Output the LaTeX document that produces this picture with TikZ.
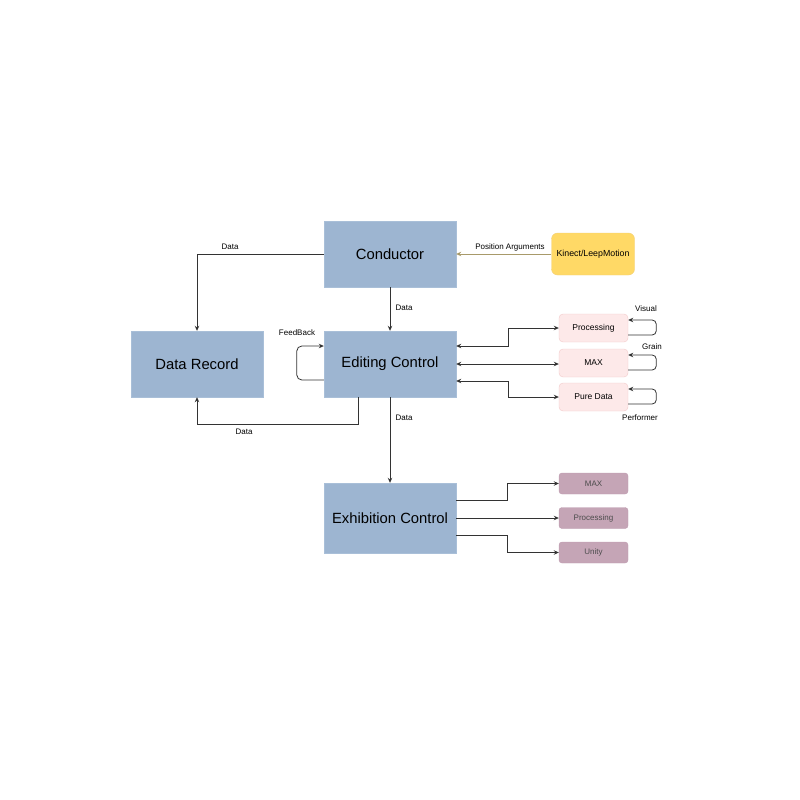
\documentclass[tikz,border=0pt]{standalone}
\usepackage{fontspec}
\setmainfont{Liberation Sans}
\usetikzlibrary{arrows.meta}
\definecolor{blockfill}{HTML}{9DB5D1}
\definecolor{blockline}{HTML}{A9BFD8}
\definecolor{sensefill}{HTML}{FFD966}
\definecolor{senseline}{HTML}{F2CF7A}
\definecolor{toolfill}{HTML}{FDE9E9}
\definecolor{toolline}{HTML}{F3C9C9}
\definecolor{outfill}{HTML}{C5A5B6}
\definecolor{outline}{HTML}{BE9CAF}
\definecolor{wire}{HTML}{333333}
\definecolor{sensewire}{HTML}{A89A6A}
\begin{document}
\begin{tikzpicture}[x=1pt,y=-1pt,
  block/.style={draw=blockline,fill=blockfill,minimum width=132pt,minimum height=66pt,inner sep=0pt,font=\fontsize{14.8}{16}\selectfont},
  sense/.style={draw=senseline,fill=sensefill,rounded corners=6pt,minimum width=83pt,minimum height=42pt,inner sep=0pt,font=\fontsize{8.8}{10}\selectfont},
  tool/.style={draw=toolline,fill=toolfill,rounded corners=4pt,minimum width=69pt,minimum height=28pt,inner sep=0pt,font=\fontsize{8.5}{10}\selectfont},
  outbox/.style={draw=outline,fill=outfill,rounded corners=3pt,minimum width=69pt,minimum height=21pt,inner sep=0pt,text=black!70,font=\fontsize{8}{10}\selectfont},
  lbl/.style={font=\fontsize{8}{10}\selectfont,inner sep=0pt},
  link/.style={draw=wire,line width=0.8pt,-{Stealth[length=5pt,width=4.5pt]}},
  both/.style={draw=wire,line width=0.8pt,{Stealth[length=5pt,width=4.5pt]}-{Stealth[length=5pt,width=4.5pt]}}]
  \useasboundingbox (0,0) rectangle (800,800);
  \node[block] (cond) at (390,254) {Conductor};
  \node[block] (rec) at (197,364) {Data Record};
  \node[block] (edit) at (390,364) {Editing Control};
  \node[block,minimum height=70pt] (exh) at (390,518) {Exhibition Control};
  \node[sense] (kin) at (593,254) {Kinect/LeepMotion};
  \node[tool] (proc) at (593.5,328) {Processing};
  \node[tool] (max) at (593.5,363) {MAX};
  \node[tool] (pd) at (593.5,397) {Pure Data};
  \node[outbox] (outmax) at (593.5,483.5) {MAX};
  \node[outbox] (outproc) at (593.5,518) {Processing};
  \node[outbox] (unity) at (593.5,552.5) {Unity};
  \draw[link] (cond.west) -| (rec.north);
  \draw[link] (cond.south) -- (edit.north);
  \draw[link] ([xshift=-32pt]edit.south) -- ++(0,27) -| (rec.south);
  \draw[link] (edit.south) -- (exh.north);
  \draw[link,rounded corners=5pt] ([yshift=-16pt]edit.west) -- ++(-27,0) |- ([yshift=18pt]edit.west);
  \draw[link,draw=sensewire] (kin.west) -- (cond.east);
  \draw[both] ([yshift=18pt]edit.east) -- ++(52,0) |- (proc.west);
  \draw[both] (edit.east) -- (edit.east -| max.west);
  \draw[both] ([yshift=-17pt]edit.east) -- ++(52,0) |- (pd.west);
  \draw[link,rounded corners=4pt] ([yshift=-7pt]proc.east) -- ++(28,0) |- ([yshift=8pt]proc.east);
  \draw[link,rounded corners=4pt] ([yshift=-7pt]max.east) -- ++(28,0) |- ([yshift=8pt]max.east);
  \draw[link,rounded corners=4pt] ([yshift=-7pt]pd.east) -- ++(28,0) |- ([yshift=8pt]pd.east);
  \draw[link] ([yshift=18pt]exh.east) -- ++(51,0) |- (outmax.west);
  \draw[link] (exh.east) -- (outproc.west);
  \draw[link] ([yshift=-17pt]exh.east) -- ++(51,0) |- (unity.west);
  \node[lbl] (datarec) at (230,247) {Data};
  \node[lbl] (dataedit) at (404,308) {Data};
  \node[lbl] (databack) at (244,432) {Data};
  \node[lbl] (dataexh) at (404,418) {Data};
  \node[lbl] (feedback) at (297,333) {FeedBack};
  \node[lbl] (posargs) at (510,247) {Position Arguments};
  \node[lbl] (visual) at (646,309) {Visual};
  \node[lbl] (grain) at (652,347) {Grain};
  \node[lbl] (performer) at (640,418) {Performer};
\end{tikzpicture}
\end{document}
